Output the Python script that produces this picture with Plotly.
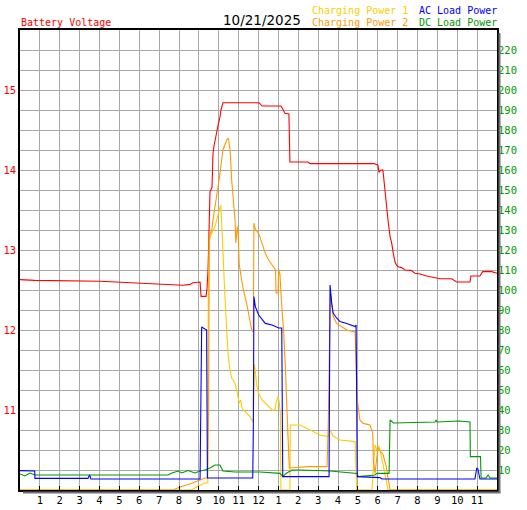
import plotly.graph_objects as go

# ============================
# data (hours since midnight, value)

hour_ticks = list(range(1, 24))
hour_labels = [str(h) for h in range(1, 13)] + [str(h) for h in range(1, 12)]

volt_ticks = [11, 12, 13, 14, 15]
power_ticks = list(range(10, 230, 10))

battery_voltage = [
    (0.0, 12.63), (0.75, 12.62), (4.03, 12.61), (6.54, 12.58), (7.55, 12.56),
    (8.2, 12.56), (8.55, 12.57), (8.7, 12.59), (9.06, 12.60), (9.11, 12.42),
    (9.36, 12.42), (9.41, 12.52), (9.46, 12.75), (9.51, 13.25), (9.56, 13.73),
    (9.66, 13.78), (9.71, 14.2), (9.76, 14.3), (9.86, 14.45), (9.96, 14.55),
    (10.06, 14.66), (10.11, 14.75), (10.21, 14.84), (12.03, 14.84), (12.18, 14.80),
    (13.13, 14.80), (13.23, 14.76), (13.33, 14.71), (13.53, 14.70), (13.58, 14.10),
    (14.49, 14.10), (14.59, 14.08), (17.81, 14.08), (18.01, 14.06), (18.06, 13.97),
    (18.16, 14.0), (18.26, 14.0), (18.31, 13.875), (18.36, 13.75), (18.45, 13.5),
    (18.53, 13.34), (18.62, 13.17), (18.7, 13.09), (18.78, 12.96), (18.87, 12.85),
    (18.95, 12.81), (19.03, 12.79), (19.2, 12.78), (19.37, 12.75), (19.67, 12.745),
    (19.87, 12.71), (20.13, 12.70), (20.46, 12.675), (21.13, 12.64), (21.72, 12.64),
    (21.97, 12.60), (22.64, 12.60), (22.69, 12.675), (23.14, 12.675), (23.28, 12.73),
    (23.73, 12.73), (24.0, 12.71),
]

charging_power_1 = [
    (0.0, 0), (8.62, 0), (8.96, 2), (9.31, 3.5), (9.45, 3.5), (9.47, 93),
    (9.53, 125), (9.65, 128.5), (9.81, 131.7), (9.98, 138.3), (10.1, 142.5),
    (10.15, 133.5), (10.23, 113.3), (10.31, 96.7), (10.4, 80), (10.48, 66.7),
    (10.57, 60), (10.65, 56), (10.73, 55), (10.82, 53.3), (10.9, 50), (10.98, 46),
    (11.03, 43.5), (11.1, 45), (11.15, 41.7), (11.24, 40), (11.41, 38.3),
    (11.57, 36.7), (11.71, 34.2), (11.74, 34), (11.8, 63), (11.84, 58),
    (11.92, 51.7), (12.01, 48.3), (12.18, 45), (12.43, 42.5), (12.68, 40),
    (12.83, 40), (12.88, 43.5), (12.98, 46.7), (13.03, 45), (13.1, 38.5),
    (13.13, 0), (13.58, 0), (13.6, 32.5), (14.09, 32.5), (14.59, 30), (15.09, 27.5),
    (15.5, 26.7), (15.6, 30), (15.75, 27), (16.1, 25), (16.86, 24.2), (16.94, 0),
    (17.71, 0), (17.86, 22.5), (17.96, 20), (18.06, 22), (18.16, 18), (18.36, 8),
    (18.52, 0), (24.0, 0),
]

charging_power_2 = [
    (0.0, 0), (7.7, 0), (8.05, 1.5), (8.55, 3), (9.06, 5), (9.31, 6), (9.43, 6),
    (9.46, 35), (9.49, 40), (9.52, 126.7), (9.65, 130), (9.71, 135), (9.9, 146.7),
    (10.06, 158), (10.21, 170), (10.4, 175), (10.48, 176), (10.57, 170),
    (10.65, 155), (10.73, 143.5), (10.82, 135), (10.86, 123.5), (10.93, 131.7),
    (10.98, 128), (11.03, 113), (11.15, 105), (11.24, 100), (11.41, 93),
    (11.52, 86.7), (11.66, 80), (11.74, 79), (11.77, 133.5), (11.84, 130.5),
    (12.01, 128.3), (12.18, 123.3), (12.34, 118.3), (12.51, 115), (12.68, 112.5),
    (12.86, 110), (12.88, 98.5), (12.98, 98.5), (13.02, 110), (13.08, 108),
    (13.15, 95), (13.27, 78.3), (13.35, 61.7), (13.43, 45), (13.48, 28),
    (13.55, 11), (14.49, 11.7), (15.45, 11.7), (15.51, 33), (15.6, 90),
    (15.63, 98.3), (15.76, 86.7), (15.93, 83.3), (16.44, 80), (16.86, 79),
    (16.97, 45), (17.1, 35), (17.27, 33.3), (17.61, 32.5), (17.75, 28.3),
    (17.78, 15), (17.86, 8.3), (18.01, 21), (18.16, 19), (18.26, 18), (18.42, 12),
    (18.52, 5), (18.62, 0), (24.0, 0),
]

ac_load_power = [
    (0.0, 9.7), (0.74, 9.5), (0.75, 5.8), (3.42, 5.8), (3.5, 7.5), (3.57, 5.5),
    (9.06, 5.5), (9.09, 40), (9.14, 81.5), (9.39, 80), (9.43, 6), (11.71, 6),
    (11.74, 30), (11.77, 96.7), (11.84, 91.7), (12.01, 87.5), (12.18, 85),
    (12.34, 83.3), (12.68, 82.5), (13.02, 81), (13.17, 81), (13.22, 6.7),
    (15.55, 6.7), (15.6, 102.5), (15.68, 93.5), (15.76, 88.3), (15.93, 86),
    (16.1, 84.2), (16.44, 83.3), (16.86, 81.7), (16.91, 82.5), (16.97, 6.7),
    (18.11, 6.2), (18.21, 5.5), (22.89, 5.5), (22.98, 11), (23.04, 10.5),
    (23.14, 5.5), (24.0, 5.5),
]

dc_load_power = [
    (0.0, 8), (0.25, 7), (0.5, 8.5), (0.75, 7.5), (0.91, 7.5), (7.45, 7.5),
    (7.65, 8.5), (7.95, 9.5), (8.15, 8.5), (8.45, 9.7), (8.8, 8.5), (9.06, 9.5),
    (9.31, 10), (9.56, 11), (9.81, 12.5), (10.06, 12.5), (10.21, 9.5), (10.82, 9),
    (12.08, 9), (13.08, 8.3), (13.23, 6.7), (13.38, 8.3), (13.69, 10), (14.09, 10),
    (15.6, 9.5), (16.35, 8.7), (16.96, 8.3), (17.02, 6.7), (17.86, 7.5),
    (17.96, 8.3), (18.57, 8.3), (18.62, 35), (18.79, 33.5), (20.88, 34),
    (20.93, 35), (20.98, 34), (22.09, 34.5), (22.64, 34), (22.66, 16.7),
    (23.17, 16.7), (23.2, 6), (23.45, 6), (23.55, 7.5), (23.65, 6), (24.0, 6),
]

# ============================
# styling

mono = "DejaVu Sans Mono"
red = "#FF0000"
gold = "#FFCC00"
orange = "#FF9900"
blue = "#0000FF"
green = "#009900"
grid = "#A8A8A8"

# ============================

def add_series(fig, pairs, color, axis):
    t, v = zip(*pairs)
    fig.add_trace(go.Scatter(
        x=t, y=v,
        mode="lines",
        line=dict(color=color, width=1.1),
        yaxis=axis,
        showlegend=False,
        hoverinfo="skip",
    ))


fig = go.Figure()
add_series(fig, charging_power_1, gold, "y2")
add_series(fig, charging_power_2, orange, "y2")
add_series(fig, dc_load_power, green, "y2")
add_series(fig, ac_load_power, blue, "y2")
add_series(fig, battery_voltage, red, "y")

# left axis grid every 0.25 V, labels only on whole volts
volt_grid = [10 + 0.25 * i for i in range(1, 23)]
volt_text = [str(int(v)) if v in volt_ticks else "" for v in volt_grid]

fig.update_layout(
    width=527,
    height=510,
    paper_bgcolor="white",
    plot_bgcolor="white",
    margin=dict(l=20, r=30, t=30, b=20, autoexpand=False),
    font=dict(family=mono, size=10),

    xaxis=dict(
        range=[0, 24],
        tickvals=hour_ticks,
        ticktext=hour_labels,
        ticks="inside",
        ticklen=4,
        tickcolor="black",
        tickfont=dict(color="black", size=10.5),
        showgrid=True,
        gridcolor=grid,
        gridwidth=1,
        showline=True,
        linecolor="black",
        linewidth=1.5,
        mirror=True,
        zeroline=False,
        automargin=False,
    ),

    yaxis=dict(
        range=[10, 15.75],
        tickvals=volt_grid,
        ticktext=volt_text,
        ticks="",
        tickfont=dict(color=red, size=10.5),
        showgrid=True,
        gridcolor=grid,
        gridwidth=1,
        showline=True,
        linecolor="black",
        linewidth=1.5,
        mirror=True,
        zeroline=False,
        automargin=False,
    ),

    yaxis2=dict(
        range=[0, 230],
        overlaying="y",
        side="right",
        tickvals=power_ticks,
        ticks="",
        tickfont=dict(color=green, size=10.5),
        showgrid=False,
        zeroline=False,
        showline=False,
        automargin=False,
    ),
)

# drop shadow on the right and bottom of the frame
px_x = 1 / 477
px_y = 1 / 460
fig.add_shape(type="line", xref="paper", yref="paper",
              x0=1 + 2.5 * px_x, x1=1 + 2.5 * px_x, y0=1 - 3 * px_y, y1=-2.5 * px_y,
              line=dict(color="#707070", width=2))
fig.add_shape(type="line", xref="paper", yref="paper",
              x0=3 * px_x, x1=1 + 3.5 * px_x, y0=-2.5 * px_y, y1=-2.5 * px_y,
              line=dict(color="#707070", width=2))

# header texts
def header(text, x_px, y_px, color, size=10, family=mono):
    fig.add_annotation(
        text=text, xref="paper", yref="paper",
        x=(x_px - 20) * px_x, y=(490 - y_px) * px_y,
        xanchor="left", yanchor="middle",
        showarrow=False,
        font=dict(family=family, size=size, color=color),
    )

header("Battery Voltage", 19, 23, red)
header("10/21/2025", 221, 20, "black", size=13.5, family="DejaVu Sans")
header("Charging Power 1", 310, 11, gold)
header("Charging Power 2", 310, 23, orange)
header("AC Load Power", 417, 11, blue)
header("DC Load Power", 417, 23, green)

# page has a default 8px body margin; drop it so the figure sits at the corner
fig.write_html(
    "out.html",
    config={"displayModeBar": False},
    post_script="document.body.style.margin='0';document.body.style.overflow='hidden';",
)
